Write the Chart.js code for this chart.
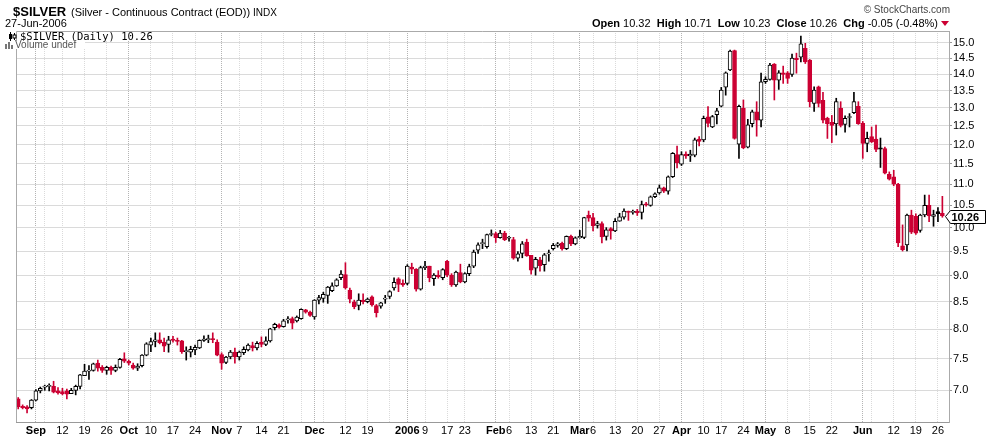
<!DOCTYPE html>
<html>
<head>
<meta charset="utf-8">
<script src="https://cdn.jsdelivr.net/npm/chart.js@4.4.1/dist/chart.umd.min.js"></script>
<style>
  body { margin: 0; background: #fff; }
  #wrap { position: relative; width: 990px; height: 438px; overflow: hidden; font-family: "Liberation Sans", Arial, sans-serif; color: #000; }
  #wrap canvas { position: absolute; left: 0; top: 0; }
  .t { position: absolute; white-space: nowrap; line-height: 1; }
  .tri { display: inline-block; width: 0; height: 0; border-left: 4px solid transparent; border-right: 4px solid transparent; border-top: 5px solid #cc0033; margin-left: 3px; vertical-align: 1px; }
  .mono { font-family: "DejaVu Sans Mono", monospace; }
</style>
</head>
<body>
<div id="wrap">
  <canvas id="chart" width="990" height="438"></canvas>

  <div class="t" style="left:13px;top:5px;font-size:13px;font-weight:bold;">$SILVER</div>
  <div class="t" style="left:71px;top:6.5px;font-size:11px;">(Silver - Continuous Contract (EOD))</div>
  <div class="t" style="left:253px;top:7.5px;font-size:10px;">INDX</div>
  <div class="t" style="left:5px;top:17.5px;font-size:11px;">27-Jun-2006</div>
  <div class="t" style="right:40px;top:5px;font-size:10px;color:#444;">&copy; StockCharts.com</div>
  <div class="t" id="quote" style="right:41px;top:17.5px;font-size:11px;"></div>

  <div class="t" style="left:17px;top:32px;width:140px;height:9px;background:#fff;"></div>
  <svg class="t" style="left:9px;top:32px;" width="9" height="9">
    <rect x="1" y="0" width="1" height="9" fill="#000"/><rect x="0" y="2" width="3" height="5" fill="#000"/>
    <rect x="5" y="1" width="1" height="7" fill="#000"/><rect x="4" y="3" width="3" height="3" fill="#fff" stroke="#000" stroke-width="1"/>
  </svg>
  <div class="t mono" id="legend1" style="left:20px;top:31px;font-size:10.5px;"></div>
  <div class="t" style="left:14px;top:41px;width:71px;height:8px;background:#fff;"></div>
  <svg class="t" style="left:5px;top:41px;" width="9" height="8">
    <rect x="0" y="3" width="2" height="5" fill="#777"/><rect x="3" y="1" width="2" height="7" fill="#777"/><rect x="6" y="4" width="2" height="4" fill="#777"/>
  </svg>
  <div class="t" style="left:15px;top:39.5px;font-size:10px;color:#555;">Volume undef</div>
</div>

<script>
const RED = '#cc0033';
const FONT = '"Liberation Sans", Arial, sans-serif';

// trading days shown on the chart
const tradingDays = [
  ['2005-08', [26, 29, 30, 31]],
  ['2005-09', [1, 2, 6, 7, 8, 9, 12, 13, 14, 15, 16, 19, 20, 21, 22, 23, 26, 27, 28, 29, 30]],
  ['2005-10', [3, 4, 5, 6, 7, 10, 11, 12, 13, 14, 17, 18, 19, 20, 21, 24, 25, 26, 27, 28, 31]],
  ['2005-11', [1, 2, 3, 4, 7, 8, 9, 10, 11, 14, 15, 16, 17, 18, 21, 22, 23, 25, 28, 29, 30]],
  ['2005-12', [1, 2, 5, 6, 7, 8, 9, 12, 13, 14, 15, 16, 19, 20, 21, 22, 23, 27, 28, 29, 30]],
  ['2006-01', [3, 4, 5, 6, 9, 10, 11, 12, 13, 17, 18, 19, 20, 23, 24, 25, 26, 27, 30, 31]],
  ['2006-02', [1, 2, 3, 6, 7, 8, 9, 10, 13, 14, 15, 16, 17, 21, 22, 23, 24, 27, 28]],
  ['2006-03', [1, 2, 3, 6, 7, 8, 9, 10, 13, 14, 15, 16, 17, 20, 21, 22, 23, 24, 27, 28, 29, 30, 31]],
  ['2006-04', [3, 4, 5, 6, 7, 10, 11, 12, 13, 17, 18, 19, 20, 21, 24, 25, 26, 27, 28]],
  ['2006-05', [1, 2, 3, 4, 5, 8, 9, 10, 11, 12, 15, 16, 17, 18, 19, 22, 23, 24, 25, 26, 30, 31]],
  ['2006-06', [1, 2, 5, 6, 7, 8, 9, 12, 13, 14, 15, 16, 19, 20, 21, 22, 23, 26, 27]]
];

// daily OHLC, one line per month
const open = [
  6.87, 6.76, 6.75, 6.74,
  6.85, 6.99, 7.05, 7.06, 7.06, 6.99, 6.98, 6.99, 6.95, 7.00, 7.06, 7.23, 7.30, 7.31, 7.43, 7.36, 7.31, 7.36, 7.31, 7.36, 7.50,
  7.46, 7.40, 7.35, 7.39, 7.56, 7.73, 7.79, 7.82, 7.78, 7.74, 7.83, 7.81, 7.80, 7.62, 7.61, 7.65, 7.68, 7.81, 7.82, 7.84, 7.78,
  7.57, 7.44, 7.53, 7.61, 7.53, 7.60, 7.65, 7.72, 7.68, 7.78, 7.74, 7.80, 8.03, 8.08, 8.05, 8.17, 8.19, 8.15, 8.19, 8.35, 8.31,
  8.22, 8.53, 8.56, 8.62, 8.71, 8.80, 8.96, 9.02, 8.72, 8.50, 8.43, 8.53, 8.50, 8.59, 8.43, 8.42, 8.55, 8.60, 8.76, 8.94, 8.85,
  8.85, 9.17, 9.13, 8.74, 9.16, 9.19, 8.94, 9.01, 8.96, 9.29, 9.01, 8.82, 9.06, 8.88, 9.04, 9.19, 9.52, 9.65, 9.59, 9.85,
  9.87, 9.78, 9.88, 9.77, 9.74, 9.35, 9.45, 9.69, 9.41, 9.15, 9.32, 9.22, 9.44, 9.55, 9.62, 9.66, 9.55, 9.81, 9.65,
  9.78, 9.79, 10.28, 10.22, 10.05, 10.09, 9.81, 9.98, 9.93, 10.14, 10.23, 10.37, 10.34, 10.37, 10.34, 10.53, 10.50, 10.70, 10.79, 10.91, 10.83, 11.18, 11.74,
  11.49, 11.75, 11.70, 11.72, 12.14, 12.12, 12.75, 12.47, 12.81, 13.05, 13.61, 14.13, 14.74, 12.01, 12.99, 11.93, 12.56, 12.89, 12.66,
  13.77, 13.84, 14.31, 13.82, 14.04, 14.04, 13.99, 14.50, 14.53, 14.82, 14.44, 13.13, 13.62, 13.22, 12.71, 12.60, 12.55, 12.99, 12.54, 12.73, 12.87, 13.05,
  12.57, 12.03, 12.21, 12.14, 11.91, 11.89, 11.24, 11.18, 11.00, 9.61, 9.63, 10.28, 10.25, 9.94, 10.28, 10.50, 10.25, 10.36, 10.32
];
const high = [
  6.89, 6.78, 6.77, 6.86,
  7.01, 7.05, 7.08, 7.10, 7.14, 7.04, 7.03, 7.02, 7.03, 7.08, 7.25, 7.41, 7.39, 7.43, 7.48, 7.39, 7.38, 7.38, 7.40, 7.51, 7.60,
  7.48, 7.43, 7.42, 7.57, 7.77, 7.85, 7.94, 7.94, 7.85, 7.88, 7.88, 7.85, 7.81, 7.70, 7.71, 7.73, 7.82, 7.89, 7.90, 7.94, 7.82,
  7.60, 7.54, 7.64, 7.68, 7.63, 7.70, 7.75, 7.78, 7.79, 7.87, 7.87, 8.02, 8.11, 8.10, 8.18, 8.23, 8.22, 8.24, 8.37, 8.36, 8.33,
  8.54, 8.62, 8.68, 8.79, 8.86, 8.94, 9.10, 9.26, 8.76, 8.53, 8.65, 8.65, 8.57, 8.61, 8.45, 8.49, 8.62, 8.71, 8.96, 8.96, 8.92,
  9.22, 9.25, 9.14, 9.19, 9.29, 9.19, 9.04, 9.10, 9.14, 9.31, 9.04, 9.09, 9.23, 9.06, 9.23, 9.52, 9.67, 9.75, 9.86, 9.95,
  9.90, 9.94, 9.92, 9.81, 9.79, 9.49, 9.70, 9.75, 9.41, 9.37, 9.37, 9.45, 9.52, 9.66, 9.68, 9.69, 9.82, 9.84, 9.80,
  9.94, 10.23, 10.37, 10.32, 10.14, 10.13, 10.00, 10.00, 10.20, 10.32, 10.42, 10.37, 10.39, 10.41, 10.60, 10.57, 10.72, 10.79, 10.98, 10.93, 11.20, 11.79, 11.96,
  11.81, 11.81, 11.85, 12.17, 12.21, 12.77, 13.04, 12.79, 12.99, 13.60, 14.07, 14.76, 14.76, 13.08, 13.23, 12.68, 12.94, 13.18, 14.03,
  13.92, 14.34, 14.33, 14.11, 14.25, 14.08, 14.63, 14.66, 15.22, 14.98, 14.46, 13.62, 13.64, 13.45, 12.74, 12.79, 13.28, 13.18, 12.78, 12.84, 13.45, 13.18,
  12.62, 12.33, 12.47, 12.52, 12.17, 11.93, 11.30, 11.34, 11.02, 10.06, 10.30, 10.39, 10.31, 10.30, 10.74, 10.74, 10.39, 10.45, 10.71
];
const low = [
  6.72, 6.72, 6.66, 6.72,
  6.84, 6.96, 7.00, 6.99, 6.96, 6.94, 6.93, 6.87, 6.95, 6.93, 7.02, 7.23, 7.17, 7.30, 7.30, 7.28, 7.25, 7.25, 7.29, 7.35, 7.44,
  7.40, 7.33, 7.31, 7.37, 7.55, 7.62, 7.70, 7.75, 7.62, 7.61, 7.78, 7.73, 7.59, 7.48, 7.53, 7.57, 7.67, 7.79, 7.77, 7.77, 7.55,
  7.33, 7.42, 7.50, 7.43, 7.48, 7.57, 7.63, 7.63, 7.65, 7.70, 7.72, 7.78, 7.99, 8.02, 8.04, 8.11, 8.01, 8.13, 8.18, 8.29, 8.23,
  8.18, 8.46, 8.49, 8.47, 8.69, 8.79, 8.92, 8.74, 8.48, 8.37, 8.35, 8.46, 8.48, 8.42, 8.22, 8.38, 8.47, 8.56, 8.72, 8.69, 8.79,
  8.82, 9.04, 8.70, 8.72, 9.12, 8.88, 8.81, 8.95, 8.92, 8.98, 8.79, 8.79, 8.86, 8.86, 9.00, 9.16, 9.45, 9.55, 9.56, 9.82,
  9.68, 9.77, 9.72, 9.71, 9.33, 9.29, 9.36, 9.39, 9.03, 9.01, 9.09, 9.09, 9.29, 9.52, 9.58, 9.52, 9.53, 9.61, 9.63,
  9.77, 9.76, 10.14, 9.93, 9.99, 9.67, 9.73, 9.75, 9.91, 10.14, 10.19, 10.16, 10.30, 10.27, 10.19, 10.48, 10.48, 10.68, 10.76, 10.80, 10.76, 11.16, 11.40,
  11.46, 11.64, 11.56, 11.68, 11.96, 12.07, 12.47, 12.45, 12.55, 13.03, 13.37, 14.11, 12.14, 11.64, 11.89, 11.91, 12.47, 12.22, 12.47,
  13.72, 13.82, 13.23, 13.54, 13.72, 13.72, 13.93, 14.03, 14.38, 14.33, 13.03, 12.90, 13.03, 12.58, 12.16, 12.05, 12.25, 12.47, 12.33, 12.47, 12.84, 12.54,
  11.64, 11.81, 12.05, 11.81, 11.41, 11.25, 11.10, 10.96, 9.59, 9.50, 9.50, 9.87, 9.85, 9.90, 10.24, 10.13, 10.03, 10.13, 10.23
];
const close = [
  6.75, 6.74, 6.72, 6.85,
  6.99, 7.03, 7.06, 7.06, 6.97, 6.96, 6.95, 6.94, 7.00, 7.06, 7.24, 7.30, 7.31, 7.42, 7.35, 7.31, 7.36, 7.31, 7.36, 7.49, 7.46,
  7.43, 7.35, 7.38, 7.56, 7.75, 7.79, 7.82, 7.77, 7.71, 7.82, 7.81, 7.79, 7.62, 7.63, 7.66, 7.69, 7.81, 7.83, 7.84, 7.82, 7.56,
  7.43, 7.53, 7.61, 7.53, 7.61, 7.66, 7.73, 7.68, 7.76, 7.74, 7.80, 8.01, 8.09, 8.04, 8.15, 8.18, 8.11, 8.22, 8.36, 8.31, 8.25,
  8.53, 8.58, 8.64, 8.78, 8.80, 8.92, 9.03, 8.76, 8.55, 8.41, 8.53, 8.50, 8.55, 8.44, 8.30, 8.48, 8.56, 8.69, 8.87, 8.83, 8.82,
  9.19, 9.13, 8.74, 9.16, 9.19, 8.96, 9.01, 8.98, 9.12, 9.01, 8.82, 9.07, 8.88, 9.04, 9.18, 9.48, 9.63, 9.68, 9.85, 9.87,
  9.78, 9.88, 9.74, 9.78, 9.35, 9.44, 9.65, 9.40, 9.11, 9.33, 9.20, 9.42, 9.45, 9.62, 9.65, 9.55, 9.81, 9.65, 9.78,
  9.81, 10.22, 10.21, 10.04, 10.09, 9.80, 9.95, 9.93, 10.14, 10.24, 10.37, 10.34, 10.35, 10.33, 10.52, 10.51, 10.70, 10.77, 10.91, 10.83, 11.18, 11.77, 11.53,
  11.74, 11.70, 11.75, 12.12, 12.08, 12.71, 12.57, 12.76, 12.92, 13.52, 14.04, 14.73, 12.16, 13.05, 11.91, 12.53, 12.89, 12.66, 13.77,
  13.84, 14.28, 13.82, 14.04, 13.99, 13.87, 14.50, 14.45, 14.96, 14.38, 13.18, 13.52, 13.13, 12.66, 12.56, 12.51, 13.18, 12.51, 12.71, 12.76, 13.18, 12.56,
  12.03, 12.16, 12.07, 11.87, 11.88, 11.27, 11.12, 11.00, 9.67, 9.53, 10.28, 9.90, 9.88, 10.28, 10.50, 10.26, 10.29, 10.31, 10.26
];

// x axis: month starts (bold), week starts with a day label, week lines without label
const monthTicks = [
  ['2005-09-01', 'Sep'], ['2005-10-03', 'Oct'], ['2005-11-01', 'Nov'], ['2005-12-01', 'Dec'], ['2006-01-03', '2006'],
  ['2006-02-01', 'Feb'], ['2006-03-01', 'Mar'], ['2006-04-03', 'Apr'], ['2006-05-01', 'May'], ['2006-06-01', 'Jun']
];
const weekTicks = [
  ['2005-09-12', '12'], ['2005-09-19', '19'], ['2005-09-26', '26'],
  ['2005-10-10', '10'], ['2005-10-17', '17'], ['2005-10-24', '24'],
  ['2005-11-07', '7'], ['2005-11-14', '14'], ['2005-11-21', '21'],
  ['2005-12-12', '12'], ['2005-12-19', '19'],
  ['2006-01-09', '9'], ['2006-01-17', '17'], ['2006-01-23', '23'],
  ['2006-02-06', '6'], ['2006-02-13', '13'], ['2006-02-21', '21'],
  ['2006-03-06', '6'], ['2006-03-13', '13'], ['2006-03-20', '20'], ['2006-03-27', '27'],
  ['2006-04-10', '10'], ['2006-04-17', '17'], ['2006-04-24', '24'],
  ['2006-05-08', '8'], ['2006-05-15', '15'], ['2006-05-22', '22'],
  ['2006-06-12', '12'], ['2006-06-19', '19'], ['2006-06-26', '26']
];
const weekLines = ['2005-09-06', '2005-11-28', '2005-12-05', '2005-12-27', '2006-06-05'];

const yTicks = [7.0, 7.5, 8.0, 8.5, 9.0, 9.5, 10.0, 10.5, 11.0, 11.5, 12.0, 12.5, 13.0, 13.5, 14.0, 14.5, 15.0];

// ---- build ----
const dates = [];
tradingDays.forEach(([ym, days]) => days.forEach(d => dates.push(ym + '-' + String(d).padStart(2, '0'))));

const tickText = {};
const monthIdx = new Set();
const weekIdx = new Set();
monthTicks.forEach(([d, t]) => { const i = dates.indexOf(d); tickText[i] = t; monthIdx.add(i); });
weekTicks.forEach(([d, t]) => { const i = dates.indexOf(d); tickText[i] = t; weekIdx.add(i); });
weekLines.forEach(d => weekIdx.add(dates.indexOf(d)));

// one blank slot at the right edge, like the original
const labels = dates.concat(['']);

const bodies = open.map((o, i) => [Math.min(o, close[i]), Math.max(o, close[i])]);
const wicks = low.map((l, i) => [l, high[i]]);
// black / red: close vs previous close; filled when close < open
const strokes = close.map((c, i) => {
  const ref = i === 0 ? open[0] : close[i - 1];
  return c >= ref ? '#000' : RED;
});
const fills = close.map((c, i) => c < open[i] ? strokes[i] : '#fff');

const last = close.length - 1;
const chg = close[last] - close[last - 1];
document.getElementById('quote').innerHTML =
  '<b>Open</b> ' + open[last].toFixed(2) +
  ' &nbsp;<b>High</b> ' + high[last].toFixed(2) +
  ' &nbsp;<b>Low</b> ' + low[last].toFixed(2) +
  ' &nbsp;<b>Close</b> ' + close[last].toFixed(2) +
  ' &nbsp;<b>Chg</b> ' + chg.toFixed(2) + ' (' + (chg / close[last - 1] * 100).toFixed(2) + '%)' +
  '<span class="tri"></span>';
document.getElementById('legend1').textContent = '$SILVER (Daily) ' + close[last].toFixed(2);

const frame = {
  id: 'frame',
  afterDraw(chart) {
    const { ctx, chartArea: a, scales } = chart;
    ctx.save();
    ctx.strokeStyle = '#aaa';
    ctx.lineWidth = 1;
    ctx.beginPath();
    ctx.moveTo(a.left + 0.5, a.bottom);
    ctx.lineTo(a.left + 0.5, a.top + 0.5);
    ctx.lineTo(a.right, a.top + 0.5);
    ctx.stroke();

    // last price marker on the right axis
    const y = Math.round(scales.y.getPixelForValue(close[last])) + 0.5;
    const x0 = a.right - 3.5;
    ctx.beginPath();
    ctx.moveTo(x0, y);
    ctx.lineTo(x0 + 5, y - 6);
    ctx.lineTo(985.5, y - 6);
    ctx.lineTo(985.5, y + 7);
    ctx.lineTo(x0 + 5, y + 7);
    ctx.closePath();
    ctx.fillStyle = '#fff';
    ctx.fill();
    ctx.strokeStyle = '#000';
    ctx.stroke();
    ctx.fillStyle = '#000';
    ctx.font = 'bold 11px ' + FONT;
    ctx.textBaseline = 'middle';
    ctx.fillText(close[last].toFixed(2), x0 + 6, y + 1);
    ctx.restore();
  }
};

new Chart(document.getElementById('chart'), {
  type: 'bar',
  data: {
    labels: labels,
    datasets: [
      {
        label: 'body', data: bodies,
        backgroundColor: fills, borderColor: strokes, borderWidth: 1, borderSkipped: false,
        barThickness: 4, minBarLength: 1, grouped: false, order: 0
      },
      {
        label: 'wick', data: wicks,
        backgroundColor: strokes, borderWidth: 0,
        barThickness: 1, grouped: false, order: 1
      }
    ]
  },
  options: {
    responsive: false,
    animation: false,
    layout: { padding: { left: 16, top: 31, right: 0, bottom: 0 } },
    plugins: { legend: { display: false }, tooltip: { enabled: false } },
    scales: {
      x: {
        type: 'category',
        offset: true,
        grid: {
          offset: false,
          drawTicks: false,
          color: (c) => monthIdx.has(c.index) ? '#b4b4b4' : (weekIdx.has(c.index) ? '#dadada' : 'rgba(0,0,0,0)')
        },
        border: { color: '#999', dash: [1, 1] },
        ticks: {
          autoSkip: false, maxRotation: 0, minRotation: 0, padding: 2, color: '#000',
          font: (c) => ({ family: FONT, size: 11, weight: monthIdx.has(c.index) ? 'bold' : 'normal' }),
          callback: (v, i) => tickText[i] || ''
        },
        afterFit: (s) => { s.height = 16; }
      },
      y: {
        type: 'logarithmic',
        position: 'right',
        min: 6.53,
        max: 15.39,
        afterBuildTicks: (s) => { s.ticks = yTicks.map(v => ({ value: v })); },
        grid: { color: '#dadada', tickLength: 3, tickColor: '#999' },
        border: { color: '#aaa' },
        ticks: {
          autoSkip: false, padding: 1, color: '#000',
          font: { family: FONT, size: 11 },
          callback: (v) => Number(v).toFixed(1)
        },
        afterFit: (s) => { s.width = 41; }
      }
    }
  },
  plugins: [frame]
});
</script>
</body>
</html>
